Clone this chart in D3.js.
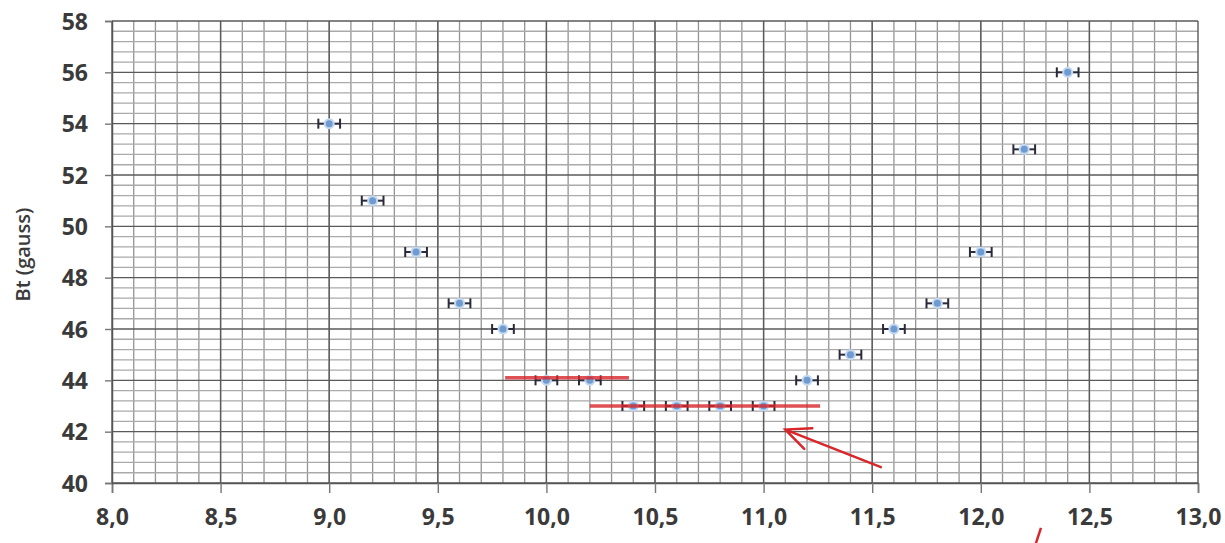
<!DOCTYPE html>
<html>
<head>
<meta charset="utf-8">
<script src="https://cdn.jsdelivr.net/npm/d3@7"></script>
<style>
  body { margin: 0; background: #fff; }
  .tick text { font-family: "Open Sans", sans-serif; font-weight: bold; font-size: 23px; fill: #3a3a3a; }
  .label { font-family: "Open Sans", sans-serif; font-weight: 600; font-size: 20px; fill: #3a3a3a; }
</style>
</head>
<body>
<div class="svg-container"></div>
<script>
var width = 1225;
var height = 543;

var padding = { "top": 21, "right": 27, "bottom": 60, "left": 112 };

// measured points: frequency vs Bt (gauss)
var freq = [9.0, 9.2, 9.4, 9.6, 9.8, 10.0, 10.2, 10.4, 10.6, 10.8, 11.0, 11.2, 11.4, 11.6, 11.8, 12.0, 12.2, 12.4];
var bt = [54, 51, 49, 47, 46, 44, 44, 43, 43, 43, 43, 44, 45, 46, 47, 49, 53, 56];
var xErr = 0.05;

// tick labels
var xTicks = [8.0, 8.5, 9.0, 9.5, 10.0, 10.5, 11.0, 11.5, 12.0, 12.5, 13.0];
var yTicks = [40, 42, 44, 46, 48, 50, 52, 54, 56, 58];

// red hand-drawn marks
var redStart = [9.81, 10.2];
var redEnd = [10.38, 11.26];
var redLevel = [44.1, 43.0];
var arrowTail = [11.54, 40.62];
var arrowTip = [11.10, 42.08];
var slashFrom = [12.254, 37.66];
var slashTo = [12.277, 38.25];

var innerW = width - padding.left - padding.right;
var innerH = height - padding.top - padding.bottom;

var svg = d3.select(".svg-container")
    .append("svg")
    .attr("width", width)
    .attr("height", height)
    .append("g")
    .attr("transform", "translate(" + padding.left + "," + padding.top + ")");

var scaleX = d3.scaleLinear().domain([8, 13]).range([0, innerW]);
var scaleY = d3.scaleLinear().domain([40, 58]).range([innerH, 0]);

// minor grid
svg.append("g")
    .selectAll("line")
    .data(d3.range(81, 130).map(function(d) { return d / 10; }))
    .enter().append("line")
    .attr("x1", function(d) { return scaleX(d); })
    .attr("x2", function(d) { return scaleX(d); })
    .attr("y1", 0).attr("y2", innerH)
    .attr("stroke", "#949494").attr("stroke-width", 1.3);

svg.append("g")
    .selectAll("line")
    .data(d3.range(1, 45).map(function(d) { return 40 + d * 0.4; }).filter(function(d) { return Math.abs(d / 2 - Math.round(d / 2)) > 0.01; }))
    .enter().append("line")
    .attr("x1", 0).attr("x2", innerW)
    .attr("y1", function(d) { return scaleY(d); })
    .attr("y2", function(d) { return scaleY(d); })
    .attr("stroke", "#aaaaaa").attr("stroke-width", 1.3);

// major grid
svg.append("g")
    .selectAll("line")
    .data(xTicks)
    .enter().append("line")
    .attr("x1", function(d) { return scaleX(d); })
    .attr("x2", function(d) { return scaleX(d); })
    .attr("y1", 0).attr("y2", innerH)
    .attr("stroke", "#5a5a5a").attr("stroke-width", 1.4);

svg.append("g")
    .selectAll("line")
    .data(yTicks)
    .enter().append("line")
    .attr("x1", 0).attr("x2", innerW)
    .attr("y1", function(d) { return scaleY(d); })
    .attr("y2", function(d) { return scaleY(d); })
    .attr("stroke", "#5a5a5a").attr("stroke-width", 1.4);

// axes
var fmt = function(d) { return d3.format(".1f")(d).replace(".", ","); };

var xAxis = svg.append("g")
    .attr("transform", "translate(0," + innerH + ")")
    .call(d3.axisBottom(scaleX).tickValues(xTicks).tickFormat(fmt).tickSize(10).tickPadding(16));

var yAxis = svg.append("g")
    .call(d3.axisLeft(scaleY).tickValues(yTicks).tickFormat(d3.format("d")).tickSize(7).tickPadding(17));

[xAxis, yAxis].forEach(function(a) {
    a.select(".domain").attr("stroke", "#555").attr("stroke-width", 1.5);
    a.selectAll(".tick line").attr("stroke", "#777").attr("stroke-width", 1.4);
    a.selectAll(".tick text").attr("font-family", null).attr("font-size", null);
});
xAxis.selectAll(".tick text").attr("dy", "0.71em");
yAxis.selectAll(".tick text").attr("dy", "0.36em");

// error bars
var pts = freq.map(function(f, i) { return { x: f, y: bt[i] }; });

var bars = svg.append("g").selectAll("g")
    .data(pts)
    .enter().append("g")
    .attr("stroke", "#2a2a3a")
    .attr("stroke-width", 2);

bars.append("line")
    .attr("x1", function(d) { return scaleX(d.x - xErr); })
    .attr("x2", function(d) { return scaleX(d.x + xErr); })
    .attr("y1", function(d) { return scaleY(d.y); })
    .attr("y2", function(d) { return scaleY(d.y); });

[-1, 1].forEach(function(s) {
    bars.append("line")
        .attr("x1", function(d) { return scaleX(d.x + s * xErr); })
        .attr("x2", function(d) { return scaleX(d.x + s * xErr); })
        .attr("y1", function(d) { return scaleY(d.y) - 5; })
        .attr("y2", function(d) { return scaleY(d.y) + 5; });
});

svg.append("g").selectAll("circle")
    .data(pts)
    .enter().append("circle")
    .attr("cx", function(d) { return scaleX(d.x); })
    .attr("cy", function(d) { return scaleY(d.y); })
    .attr("r", 4.5)
    .attr("fill", "#6f9bd1")
    .attr("stroke", "#c2d7f0")
    .attr("stroke-width", 2);

// red marks
var red = "#d9262b";

svg.append("g").selectAll("line")
    .data(redLevel)
    .enter().append("line")
    .attr("x1", function(d, i) { return scaleX(redStart[i]); })
    .attr("x2", function(d, i) { return scaleX(redEnd[i]); })
    .attr("y1", function(d) { return scaleY(d); })
    .attr("y2", function(d) { return scaleY(d); })
    .attr("stroke", red).attr("stroke-width", 3.5).attr("opacity", 0.8);

var tx = scaleX(arrowTip[0]), ty = scaleY(arrowTip[1]);
var fx = scaleX(arrowTail[0]), fy = scaleY(arrowTail[1]);
var ang = Math.atan2(fy - ty, fx - tx);
var headLen = 27, spread = 0.42;

svg.append("path")
    .attr("d", "M" + fx + "," + fy + "L" + tx + "," + ty +
        "M" + (tx + headLen * Math.cos(ang - spread)) + "," + (ty + headLen * Math.sin(ang - spread)) +
        "L" + tx + "," + ty +
        "L" + (tx + headLen * Math.cos(ang + spread)) + "," + (ty + headLen * Math.sin(ang + spread)))
    .attr("fill", "none")
    .attr("stroke", red).attr("stroke-width", 2.5)
    .style("stroke-linecap", "round");

svg.append("line")
    .attr("x1", scaleX(slashFrom[0])).attr("y1", scaleY(slashFrom[1]))
    .attr("x2", scaleX(slashTo[0])).attr("y2", scaleY(slashTo[1]))
    .attr("stroke", red).attr("stroke-width", 2.5);

// y label
svg.append("text")
    .attr("transform", "rotate(270)")
    .attr("x", -scaleY(48.9))
    .attr("y", -82)
    .attr("class", "label")
    .attr("text-anchor", "middle")
    .text("Bt (gauss)");
</script>
</body>
</html>
